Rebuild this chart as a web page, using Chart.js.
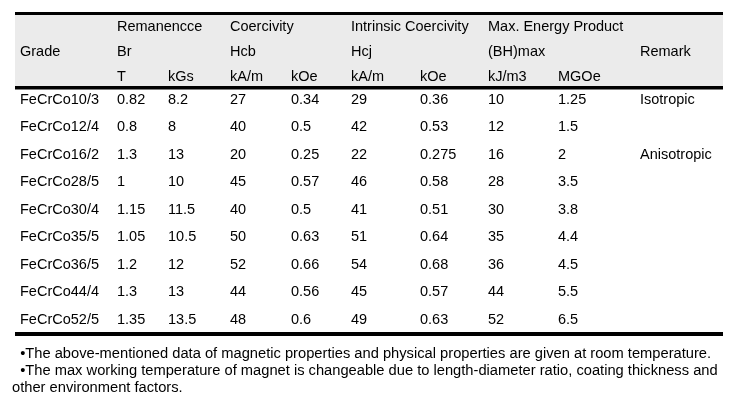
<!DOCTYPE html>
<html>
<head>
<meta charset="utf-8">
<script src="https://cdn.jsdelivr.net/npm/chart.js@4"></script>
<style>
  html, body { margin: 0; padding: 0; background: #fff; }
  #wrap { width: 740px; height: 414px; }
</style>
</head>
<body>
<div id="wrap"><canvas id="tbl" width="740" height="414"></canvas></div>
<script>
// table values
const grades = ['FeCrCo10/3', 'FeCrCo12/4', 'FeCrCo16/2', 'FeCrCo28/5', 'FeCrCo30/4',
  'FeCrCo35/5', 'FeCrCo36/5', 'FeCrCo44/4', 'FeCrCo52/5'];
const brT = [0.82, 0.8, 1.3, 1, 1.15, 1.05, 1.2, 1.3, 1.35];
const brKGs = [8.2, 8, 13, 10, 11.5, 10.5, 12, 13, 13.5];
const hcbKAm = [27, 40, 20, 45, 40, 50, 52, 44, 48];
const hcbKOe = [0.34, 0.5, 0.25, 0.57, 0.5, 0.63, 0.66, 0.56, 0.6];
const hcjKAm = [29, 42, 22, 46, 41, 51, 54, 45, 49];
const hcjKOe = [0.36, 0.53, 0.275, 0.58, 0.51, 0.64, 0.68, 0.57, 0.63];
const bhKJm3 = [10, 12, 16, 28, 30, 35, 36, 44, 52];
const bhMGOe = [1.25, 1.5, 2, 3.5, 3.8, 4.4, 4.5, 5.5, 6.5];
const remarks = ['Isotropic', '', 'Anisotropic', '', '', '', '', '', ''];

// header texts (column index, text)
const groupHead = [[1, 'Remanencce'], [3, 'Coercivity'], [5, 'Intrinsic Coercivity'], [7, 'Max. Energy Product']];
const symbolHead = [[0, 'Grade'], [1, 'Br'], [3, 'Hcb'], [5, 'Hcj'], [7, '(BH)max'], [9, 'Remark']];
const unitHead = [[1, 'T'], [2, 'kGs'], [3, 'kA/m'], [4, 'kOe'], [5, 'kA/m'], [6, 'kOe'], [7, 'kJ/m3'], [8, 'MGOe']];

const notes = [
  '  \u2022The above-mentioned data of magnetic properties and physical properties are given at room temperature.',
  '  \u2022The max working temperature of magnet is changeable due to length-diameter ratio, coating thickness and',
  'other environment factors.'
];

// layout (units = pixels of the 740x414 page)
const colX = [20, 117, 168, 230, 291, 351, 420, 488, 558, 640];
const headY = [27, 52, 77];
const rowY0 = 99.5, rowStep = 27.5;
const tLeft = 15, tRight = 723;
const noteX = [12, 12, 12], noteY = [354, 371, 388];
const FONT = '14.5px "Liberation Sans", Arial, sans-serif';
const NOTE_FONT = '14.7px "Liberation Sans", Arial, sans-serif';

const rowY = i => rowY0 + i * rowStep;

let datasets = [];
const columns = [grades, brT, brKGs, hcbKAm, hcbKOe, hcjKAm, hcjKOe, bhKJm3, bhMGOe, remarks];
columns.forEach((col, c) => {
  datasets.push({
    data: col.map((v, i) => ({ x: colX[c], y: rowY(i) })),
    texts: col.map(v => String(v)),
  });
});
[groupHead, symbolHead, unitHead].forEach((row, r) => {
  datasets.push({
    data: row.map(h => ({ x: colX[h[0]], y: headY[r] })),
    texts: row.map(h => h[1]),
  });
});

const tablePlugin = {
  id: 'table',
  beforeDatasetsDraw(chart) {
    const { ctx, scales: { x, y } } = chart;
    const l = x.getPixelForValue(tLeft), r = x.getPixelForValue(tRight);
    ctx.save();
    ctx.fillStyle = '#ebebeb';
    ctx.fillRect(l, y.getPixelForValue(15), r - l, y.getPixelForValue(86) - y.getPixelForValue(15));
    ctx.fillStyle = '#000';
    [[12, 3], [86, 3.5], [332, 4]].forEach(([top, h]) => {
      ctx.fillRect(l, y.getPixelForValue(top), r - l, h);
    });
    ctx.restore();
  },
  afterDatasetsDraw(chart) {
    const { ctx, scales: { x, y } } = chart;
    ctx.save();
    ctx.fillStyle = '#000';
    ctx.textBaseline = 'middle';
    ctx.textAlign = 'left';
    ctx.font = FONT;
    chart.data.datasets.forEach((ds, i) => {
      const meta = chart.getDatasetMeta(i);
      meta.data.forEach((pt, j) => ctx.fillText(ds.texts[j], pt.x, pt.y));
    });
    ctx.font = NOTE_FONT;
    notes.forEach((t, i) => ctx.fillText(t, x.getPixelForValue(noteX[i]), y.getPixelForValue(noteY[i])));
    ctx.restore();
  }
};

new Chart(document.getElementById('tbl'), {
  type: 'scatter',
  data: { datasets },
  options: {
    responsive: false,
    animation: false,
    layout: { padding: 0 },
    elements: { point: { radius: 0, hoverRadius: 0 } },
    scales: {
      x: { type: 'linear', min: 0, max: 740, display: false },
      y: { type: 'linear', min: 0, max: 414, reverse: true, display: false }
    },
    plugins: { legend: { display: false }, tooltip: { enabled: false } }
  },
  plugins: [tablePlugin]
});
</script>
</body>
</html>
